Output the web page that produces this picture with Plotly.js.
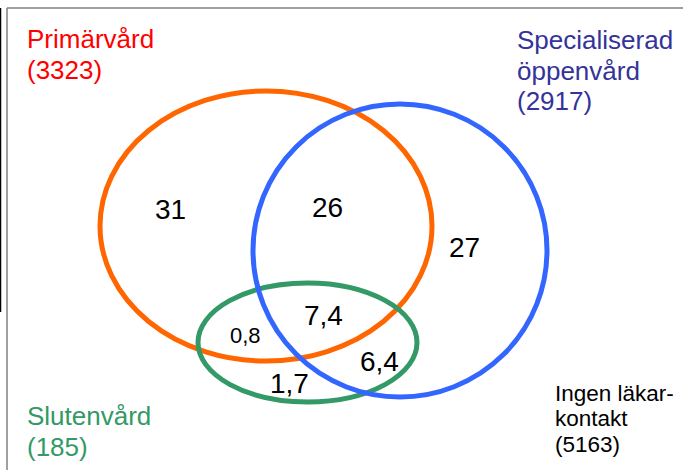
<!DOCTYPE html>
<html>
<head>
<meta charset="utf-8">
<script src="https://cdn.plot.ly/plotly-3.0.1.min.js"></script>
<style>html,body{margin:0;padding:0;background:#fff;}#chart{width:683px;height:470px;}</style>
</head>
<body>
<div id="chart"></div>
<script>
// ---- data ----
var setNames = ["Primärvård", "Specialiserad öppenvård", "Slutenvård", "Ingen läkarkontakt"];
var setCounts = [3323, 2917, 185, 5163];
var regionNames = ["Endast primärvård", "Primärvård + specialiserad", "Endast specialiserad",
                   "Primärvård + sluten", "Alla tre", "Specialiserad + sluten", "Endast sluten"];
var regionValues = [31, 26, 27, 0.8, 7.4, 6.4, 1.7];

// ---- layout / style (pixel coordinates of the 683x470 canvas) ----
var regionPos = [[170,209],[327,207],[464,247],[245,335],[323,315],[379,361],[289,383]];
var regionSize = [28,28,28,22,28,28,28];
var ellipses = [ // [x0,x1,y0,y1,color]
  [100,432,91,361,"#FF6600"],
  [198,417,283,402,"#339966"],
  [253,547,104,397,"#3366FF"]
];
var FONT = "Liberation Sans, Arial, sans-serif";

function fmt(v){ return String(v).replace(".", ","); }

var shapes = [];
ellipses.forEach(function(e){
  shapes.push({type:"circle", xref:"x", yref:"y", x0:e[0], x1:e[1], y0:e[2], y1:e[3],
    line:{color:e[4], width:5}, fillcolor:"rgba(0,0,0,0)", layer:"above"});
});
// frame lines
shapes.push({type:"line", xref:"x", yref:"y", x0:7, x1:7, y0:8, y1:470, line:{color:"#808080", width:1.5}});
shapes.push({type:"line", xref:"x", yref:"y", x0:7, x1:683, y0:8, y1:8, line:{color:"#808080", width:1.5}});
shapes.push({type:"line", xref:"x", yref:"y", x0:0.5, x1:0.5, y0:8, y1:312, line:{color:"#000000", width:1.5}});

var ann = [];
regionValues.forEach(function(v,i){
  ann.push({x:regionPos[i][0], y:regionPos[i][1], xref:"x", yref:"y", text:fmt(v), showarrow:false,
    xanchor:"center", yanchor:"middle", borderpad:0, font:{family:FONT, size:regionSize[i], color:"#000"}});
});
function lbl(x,y,t,c,s){
  ann.push({x:x, y:y, xref:"x", yref:"y", text:t, showarrow:false, xanchor:"left", yanchor:"middle",
    borderpad:0, font:{family:FONT, size:s, color:c}});
}
lbl(26,39,setNames[0],"#FF0000",26);
lbl(26,70,"("+setCounts[0]+")","#FF0000",26);
lbl(516,40,"Specialiserad","#333399",26);
lbl(516,71,"öppenvård","#333399",26);
lbl(516,101,"("+setCounts[1]+")","#333399",26);
lbl(26,416,setNames[2],"#339966",26);
lbl(26,447,"("+setCounts[2]+")","#339966",26);
lbl(554,393,"Ingen läkar-","#000000",22.5);
lbl(554,418,"kontakt","#000000",22.5);
lbl(554,444,"("+setCounts[3]+")","#000000",22.5);

var layout = {
  width:683, height:470,
  margin:{l:0,r:0,t:0,b:0},
  paper_bgcolor:"#fff", plot_bgcolor:"#fff",
  xaxis:{range:[0,683], visible:false, fixedrange:true},
  yaxis:{range:[470,0], visible:false, fixedrange:true},
  showlegend:false,
  shapes:shapes,
  annotations:ann
};
Plotly.newPlot("chart", [{x:[], y:[], type:"scatter", mode:"markers"}], layout, {staticPlot:true});
</script>
</body>
</html>
